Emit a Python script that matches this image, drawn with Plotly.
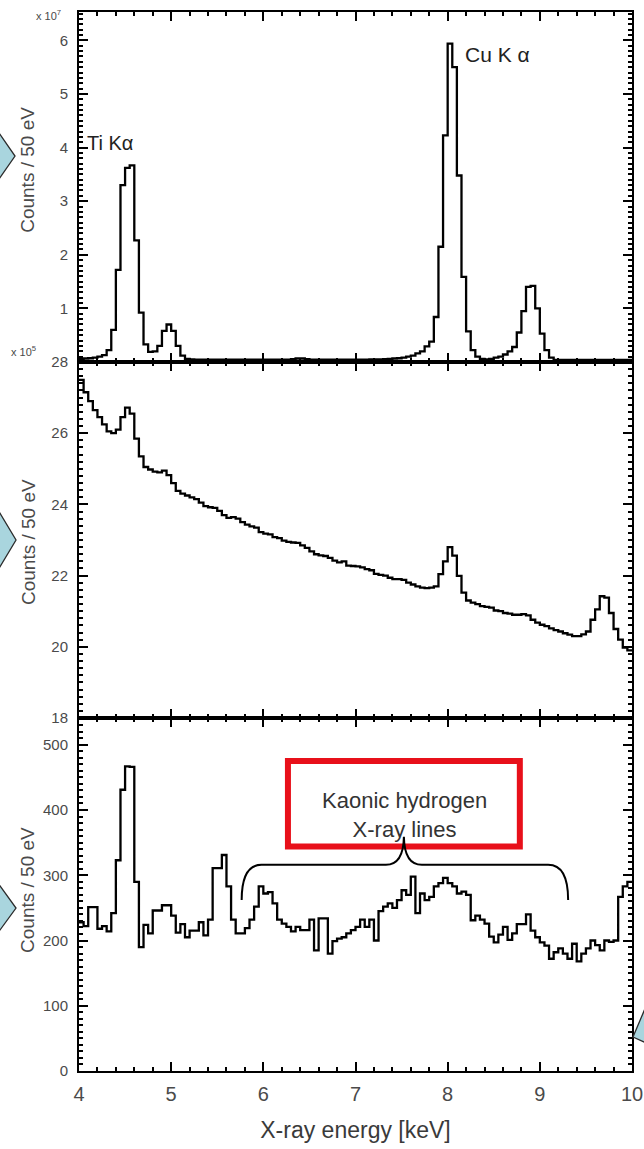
import numpy as np
import plotly.graph_objects as go
from plotly.subplots import make_subplots

# ---------------------------------------------------------------
# 50 eV energy bins between 4 and 10 keV
# ---------------------------------------------------------------
bin_width_kev = 0.05
bin_lo_kev = 4.0 + bin_width_kev * np.arange(120)
bin_edges_kev = np.append(bin_lo_kev, 10.0)

# Calibration run (x 10^7 counts / 50 eV): Ti and Cu fluorescence lines
calib_counts_1e7 = [
    0.06, 0.065, 0.07, 0.08, 0.10, 0.13, 0.22, 0.60, 1.72, 3.30,
    3.62, 3.67, 2.27, 0.92, 0.33, 0.19, 0.20, 0.30, 0.58, 0.70,
    0.58, 0.30, 0.12, 0.06, 0.05, 0.045, 0.045, 0.045, 0.045, 0.045,
    0.045, 0.045, 0.045, 0.045, 0.045, 0.045, 0.045, 0.045, 0.045, 0.045,
    0.045, 0.045, 0.045, 0.045, 0.045, 0.045, 0.055, 0.065, 0.065, 0.055,
    0.045, 0.045, 0.045, 0.045, 0.045, 0.045, 0.045, 0.045, 0.045, 0.045,
    0.045, 0.045, 0.045, 0.05, 0.05, 0.05, 0.055, 0.06, 0.065, 0.07,
    0.08, 0.10, 0.12, 0.16, 0.20, 0.29, 0.38, 0.84, 2.15, 4.23,
    5.94, 5.50, 3.48, 1.59, 0.57, 0.22, 0.10, 0.06, 0.05, 0.06,
    0.08, 0.10, 0.14, 0.20, 0.28, 0.55, 0.95, 1.40, 1.42, 1.00,
    0.53, 0.22, 0.08, 0.04, 0.04, 0.04, 0.04, 0.04, 0.04, 0.04,
    0.04, 0.04, 0.04, 0.04, 0.04, 0.04, 0.04, 0.04, 0.04, 0.04,
]

# Untriggered background (x 10^5 counts / 50 eV)
background_counts_1e5 = [
    27.50, 27.15, 26.90, 26.65, 26.45, 26.25, 26.05, 26.00, 26.10, 26.45,
    26.72, 26.55, 25.85, 25.35, 25.05, 24.98, 24.92, 24.90, 24.95, 24.82,
    24.60, 24.38, 24.30, 24.25, 24.20, 24.15, 24.05, 23.95, 23.92, 23.90,
    23.82, 23.70, 23.62, 23.64, 23.60, 23.50, 23.43, 23.38, 23.35, 23.22,
    23.18, 23.16, 23.08, 23.05, 22.98, 22.95, 22.93, 22.92, 22.85, 22.78,
    22.68, 22.60, 22.57, 22.55, 22.50, 22.42, 22.37, 22.40, 22.28, 22.27,
    22.26, 22.23, 22.18, 22.15, 22.05, 22.02, 22.00, 21.94, 21.90, 21.90,
    21.88, 21.80, 21.75, 21.70, 21.66, 21.65, 21.66, 21.70, 22.04, 22.40,
    22.80, 22.56, 21.99, 21.52, 21.30, 21.24, 21.20, 21.14, 21.12, 21.10,
    21.02, 21.00, 20.95, 20.93, 20.90, 20.90, 20.92, 20.88, 20.76, 20.68,
    20.62, 20.58, 20.52, 20.47, 20.43, 20.38, 20.34, 20.30, 20.30, 20.35,
    20.43, 20.76, 21.05, 21.42, 21.38, 20.95, 20.50, 20.20, 19.98, 19.90,
]

# Kaon-triggered spectrum (counts / 50 eV)
kaonic_counts = [
    228, 222, 251, 251, 218, 222, 214, 242, 323, 431,
    467, 466, 290, 190, 224, 211, 246, 246, 254, 254,
    238, 212, 225, 205, 215, 215, 228, 208, 232, 311,
    311, 331, 283, 232, 211, 211, 219, 232, 252, 283,
    272, 274, 257, 232, 226, 221, 214, 221, 216, 216,
    232, 185, 234, 234, 180, 199, 203, 205, 211, 216,
    221, 232, 221, 232, 200, 245, 252, 257, 250, 262,
    277, 270, 298, 242, 272, 262, 267, 283, 288, 296,
    288, 283, 272, 275, 270, 231, 238, 232, 226, 206,
    197, 209, 221, 201, 211, 225, 225, 240, 215, 205,
    197, 192, 172, 182, 188, 180, 172, 195, 168, 180,
    188, 200, 193, 185, 200, 198, 200, 267, 283, 290,
]

x_tick_vals = [4, 5, 6, 7, 8, 9, 10]
top_tick_vals = [1, 2, 3, 4, 5, 6]
mid_tick_vals = [18, 20, 22, 24, 26, 28]
bot_tick_vals = [0, 100, 200, 300, 400, 500]

FONT = "Liberation Sans, Arial, Helvetica, sans-serif"
LABEL_GREY = "#4a4a4a"

fig = make_subplots(rows=3, cols=1, shared_xaxes=True, vertical_spacing=0)

for row, series in ((1, calib_counts_1e7), (2, background_counts_1e5), (3, kaonic_counts)):
    fig.add_trace(
        go.Scatter(
            x=bin_edges_kev,
            y=list(series) + [series[-1]],
            mode="lines",
            line=dict(color="black", width=2.3, shape="hv"),
            showlegend=False,
            hoverinfo="skip",
        ),
        row=row, col=1,
    )

# ---------------- axes ----------------
frame = dict(
    showline=True, linecolor="black", linewidth=2, mirror="ticks",
    ticks="inside", tickcolor="black", tickwidth=2,
    showgrid=False, zeroline=False, automargin=False,
)

x_axis = dict(
    frame, range=[4, 10], tickvals=x_tick_vals, ticklen=9,
    minor=dict(ticks="inside", ticklen=4, tickwidth=1.5, dtick=0.2, tick0=4,
               tickcolor="black", showgrid=False),
)
fig.update_xaxes(x_axis)
fig.update_xaxes(showticklabels=False, row=1, col=1)
fig.update_xaxes(showticklabels=False, row=2, col=1)
fig.update_xaxes(
    showticklabels=True, tickfont=dict(family=FONT, size=20, color=LABEL_GREY),
    ticklabelstandoff=4,
    title=dict(text="X-ray energy [keV]", font=dict(family=FONT, size=23, color="#3a3a3a"),
               standoff=18),
    row=3, col=1,
)

y_font = dict(family=FONT, size=15, color=LABEL_GREY)
h = 1059.0
dom_bot = (0.0, 353 / h)
dom_mid = (353 / h, 709 / h)
dom_top = (709 / h, 1.0)

fig.update_yaxes(
    frame, range=[0, 6.53], domain=dom_top, tickvals=top_tick_vals, ticklen=9,
    tickfont=y_font, ticklabelstandoff=6,
    minor=dict(ticks="inside", ticklen=4, tickwidth=1.5, dtick=0.1, tick0=0, tickcolor="black"),
    row=1, col=1,
)
fig.update_yaxes(
    frame, range=[18, 28], domain=dom_mid, tickvals=mid_tick_vals, ticklen=9,
    tickfont=y_font, ticklabelstandoff=6,
    minor=dict(ticks="inside", ticklen=4, tickwidth=1.5, dtick=0.2, tick0=18, tickcolor="black"),
    row=2, col=1,
)
fig.update_yaxes(
    frame, range=[0, 541], domain=dom_bot, tickvals=bot_tick_vals, ticklen=9,
    tickfont=y_font, ticklabelstandoff=6,
    minor=dict(ticks="inside", ticklen=4, tickwidth=1.5, dtick=10, tick0=0, tickcolor="black"),
    row=3, col=1,
)

# ---------------- annotations ----------------
ann = []
for yc in (0.851, 0.4995, 0.171):
    ann.append(dict(xref="paper", yref="paper", x=-0.0922, y=yc, text="Counts / 50 eV",
                    xanchor="center", yanchor="middle", textangle=-90, showarrow=False,
                    font=dict(family=FONT, size=19, color=LABEL_GREY)))
ann.append(dict(xref="paper", yref="paper", x=-0.029, y=0.997, xanchor="right", yanchor="middle",
                text="x 10<sup>7</sup>", showarrow=False,
                font=dict(family=FONT, size=11, color=LABEL_GREY)))
ann.append(dict(xref="paper", yref="paper", x=-0.074, y=0.680, xanchor="right", yanchor="middle",
                text="x 10<sup>5</sup>", showarrow=False,
                font=dict(family=FONT, size=11, color=LABEL_GREY)))
ann.append(dict(xref="x", yref="y", x=4.065, y=4.09, xanchor="left", yanchor="middle",
                text="Ti K\u03b1", showarrow=False,
                font=dict(family=FONT, size=20, color="#222222")))
ann.append(dict(xref="x", yref="y", x=8.165, y=5.73, xanchor="left", yanchor="middle",
                text="Cu K \u03b1", showarrow=False,
                font=dict(family=FONT, size=21, color="#222222")))
ann.append(dict(xref="x3", yref="y3", x=7.536, y=392, xanchor="center", yanchor="middle",
                text="Kaonic hydrogen<br>X-ray lines", showarrow=False, borderpad=0,
                font=dict(family=FONT, size=22, color="#333333")))
fig.update_layout(annotations=ann)

# ---------------- shapes ----------------
shapes = [
    # highlight frame around the kaonic hydrogen label
    dict(type="rect", xref="x3", yref="y3", x0=6.267, x1=8.783, y0=344, y1=475,
         line=dict(color="#e8101a", width=6), fillcolor="rgba(0,0,0,0)"),
    # curly brace spanning the kaonic hydrogen region
    dict(type="path", xref="x3", yref="y3",
         path=("M 5.765,262 Q 5.765,316 5.98,316 L 7.33,316 "
               "Q 7.52,316 7.525,359 Q 7.53,316 7.72,316 L 9.09,316 "
               "Q 9.307,316 9.307,262"),
         line=dict(color="black", width=2)),
]


def px_to_paper(px, py):
    return (px - 79) / 553.0, (1071 - py) / 1059.0


def pointer(points):
    pts = [px_to_paper(*p) for p in points]
    d = "M " + " L ".join(f"{x:.4f},{y:.4f}" for x, y in pts) + " Z"
    return dict(type="path", xref="paper", yref="paper", path=d,
                fillcolor="#a9d5de", line=dict(color="#2b2b2b", width=1.3), layer="above")


for pts in (
    [(-8, 123), (15, 156), (-8, 189)],
    [(-8, 500), (16, 540), (-8, 580)],
    [(-8, 875), (16, 908), (-8, 941)],
    [(655, 985), (633, 1037), (655, 1047)],
):
    shapes.append(pointer(pts))

fig.update_layout(
    template="none",
    shapes=shapes,
    width=644, height=1149,
    margin=dict(l=79, r=12, t=12, b=78),
    paper_bgcolor="white", plot_bgcolor="white",
    font=dict(family=FONT),
    showlegend=False,
)

fig.write_html("out.html")
